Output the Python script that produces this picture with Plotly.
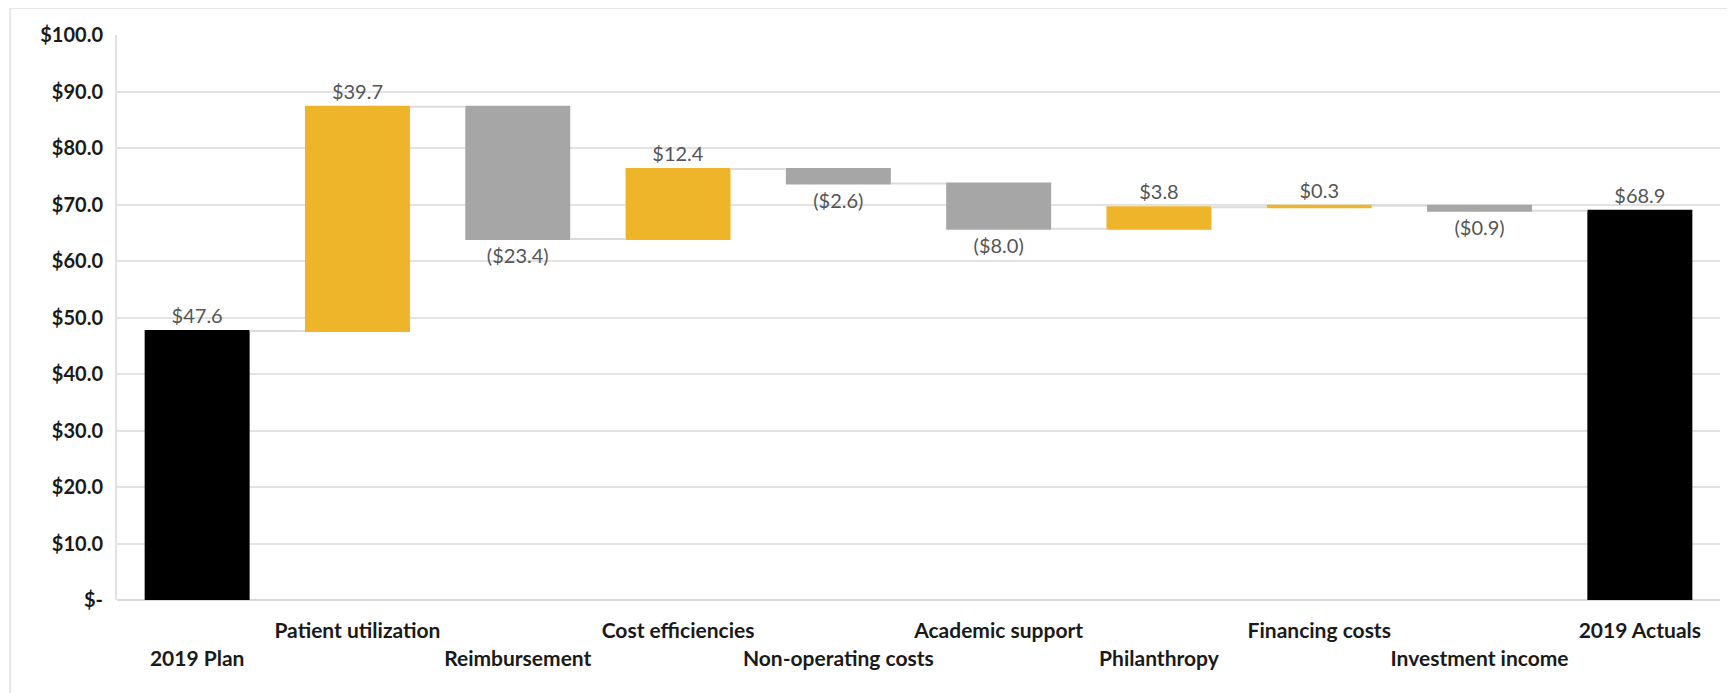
import plotly.graph_objects as go

categories = ["2019 Plan", "Patient utilization", "Reimbursement", "Cost efficiencies",
              "Non-operating costs", "Academic support", "Philanthropy", "Financing costs",
              "Investment income", "2019 Actuals"]
values = [47.6, 39.7, -23.4, 12.4, -2.6, -8.0, 3.8, 0.3, -0.9, 68.9]
measures = ["absolute", "relative", "relative", "relative", "relative", "relative",
            "relative", "relative", "relative", "total"]
y_ticks = [0, 10, 20, 30, 40, 50, 60, 70, 80, 90, 100]


def money(v):
    return f"(${abs(v):.1f})" if v < 0 else f"${v:.1f}"


labels = [money(v) for v in values]
tick_text = ["$-" if t == 0 else f"${t:.1f}" for t in y_ticks]
x_text = [("<br>" + c) if i % 2 == 0 else c for i, c in enumerate(categories)]

FONT = "Lato"

fig = go.Figure(go.Waterfall(
    x=categories,
    y=values,
    measure=measures,
    text=labels,
    textposition="outside",
    textfont=dict(family=FONT, size=20, color="#555555"),
    width=0.655,
    increasing=dict(marker=dict(color="#EEB42A")),
    decreasing=dict(marker=dict(color="#A6A6A6")),
    totals=dict(marker=dict(color="#000000")),
    connector=dict(line=dict(color="#dcdcdc", width=2), mode="between"),
    cliponaxis=False,
    showlegend=False,
))

# page body has an 8px default margin, so the figure is sized/offset accordingly
fig.update_layout(
    width=1727, height=685,
    margin=dict(l=109, r=15, t=27, b=93),
    paper_bgcolor="white",
    plot_bgcolor="white",
    font=dict(family=FONT, color="#262626"),
    xaxis=dict(
        type="category",
        range=[-0.5, 9.5],
        tickmode="array",
        tickvals=categories,
        ticktext=x_text,
        tickangle=0,
        tickfont=dict(family=FONT, size=21, color="#1a1a1a", weight="bold"),
        showgrid=False,
        showline=False,
        automargin=False,
        ticks="outside", ticklen=12, tickcolor="rgba(0,0,0,0)",
    ),
    yaxis=dict(
        range=[0, 100],
        tickmode="array",
        tickvals=y_ticks,
        ticktext=tick_text,
        tickfont=dict(family=FONT, size=20, color="#1a1a1a", weight="bold"),
        showgrid=True, gridcolor="#e2e2e2", gridwidth=2,
        zeroline=True, zerolinecolor="#d9d9d9", zerolinewidth=2,
        showline=True, linecolor="#e2e2e2", linewidth=2,
        automargin=False,
        ticks="outside", ticklen=8, tickcolor="rgba(0,0,0,0)",
    ),
    shapes=[
        dict(type="line", xref="paper", yref="paper", x0=-0.0667, x1=1.02, y0=1.048, y1=1.048,
             line=dict(color="#e6e6e6", width=2)),
        dict(type="line", xref="paper", yref="paper", x0=-0.0667, x1=-0.0667, y0=-0.2, y1=1.048,
             line=dict(color="#e6e6e6", width=2)),
    ],
)

fig.write_html("out.html")
